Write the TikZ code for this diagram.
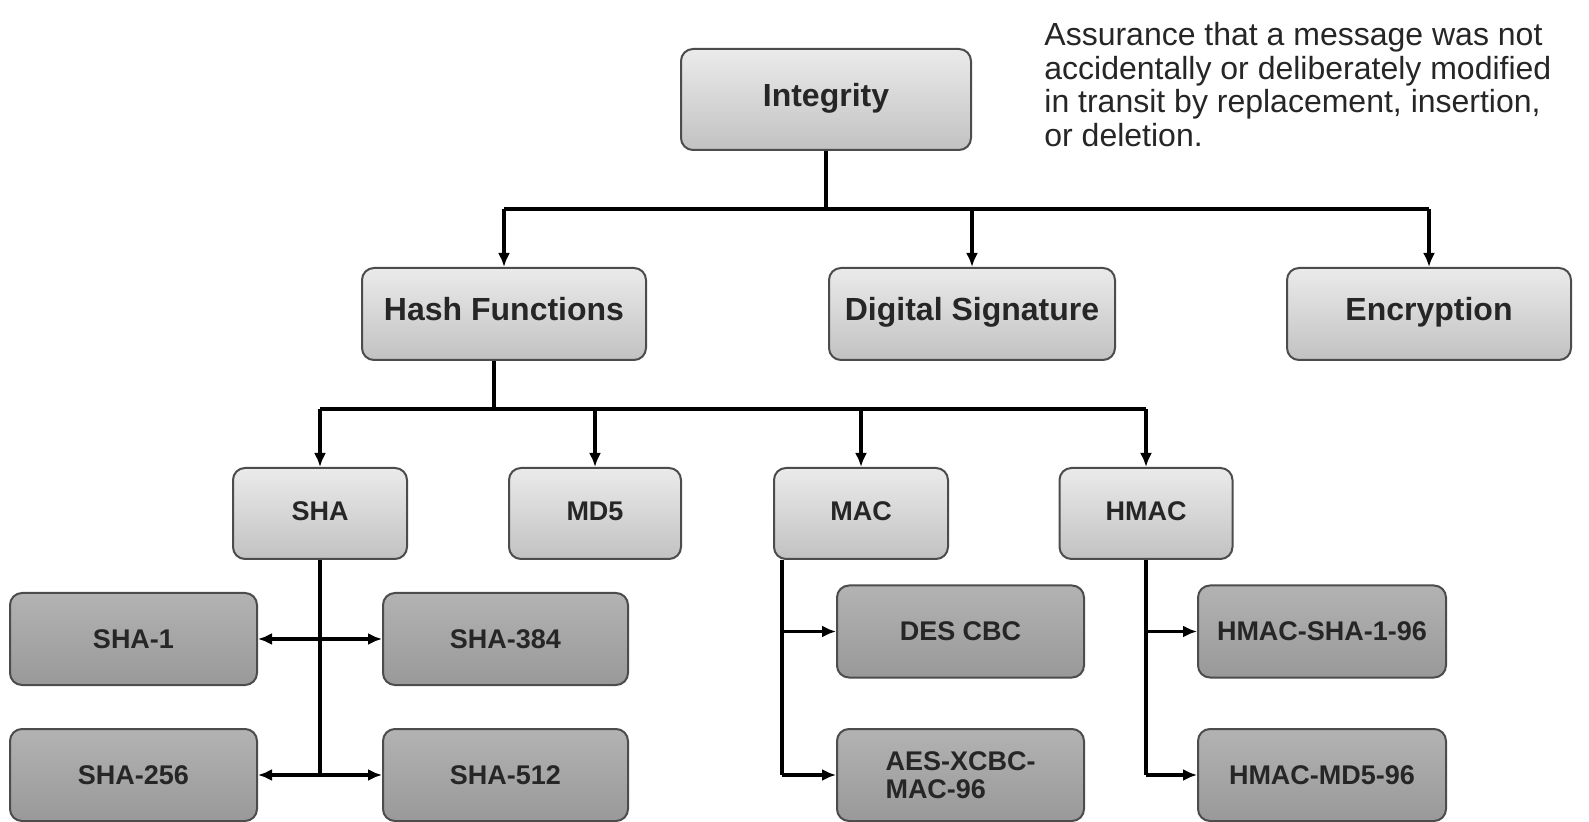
\documentclass[tikz,border=0pt]{standalone}
\usepackage{fontspec}
\setmainfont{Liberation Sans}
\usetikzlibrary{arrows.meta}
\begin{document}
\begin{tikzpicture}[x=0.5pt,y=-0.5pt,
  box/.style={draw=black!70, line width=1pt, rounded corners=6pt, font=\bfseries, text=black!85},
  upper/.style={box, top color=black!8, bottom color=black!24, minimum height=46pt, text height=0.72em, text depth=0.02em, font=\fontsize{16}{18}\selectfont\bfseries},
  mid/.style={box, top color=black!8, bottom color=black!24, minimum height=45.5pt, minimum width=87pt, text height=0.72em, text depth=0em, font=\fontsize{13.5}{15}\selectfont\bfseries},
  lower/.style={box, top color=black!30, bottom color=black!40, minimum height=46pt, minimum width=123.5pt, font=\fontsize{13.5}{14}\selectfont\bfseries},
  conn/.style={line width=1.7pt, -{Latex[length=7pt,width=6pt]}},
  plain/.style={line width=1.7pt}
]
\useasboundingbox (0,0) rectangle (1589,822);
\fill[white] (0,0) rectangle (1589,822);

\node[upper, minimum width=145pt, minimum height=50.5pt] (integ) at (826,99.5) {Integrity};
\node[upper, minimum width=142pt] (hash) at (504,314) {Hash Functions};
\node[upper, minimum width=143pt] (dsig) at (972,314) {Digital Signature};
\node[upper, minimum width=142pt] (enc) at (1429,314) {Encryption};

\node[anchor=north west, align=left, inner sep=0pt, font=\fontsize{16}{16.8}\selectfont, text=black!85] (note) at (1044,22)
  {Assurance that a message was not\\accidentally or deliberately modified\\in transit by replacement, insertion,\\or deletion.};

\node[mid] (sha) at (320,513.5) {SHA};
\node[mid, minimum width=86pt] (md5) at (595,513.5) {MD5};
\node[mid] (mac) at (861,513.5) {MAC};
\node[mid, minimum width=86.5pt] (hmac) at (1146,513.5) {HMAC};

\node[lower] (sha1) at (133.5,639) {SHA-1};
\node[lower, minimum width=122.5pt] (sha384) at (505.5,639) {SHA-384};
\node[lower] (sha256) at (133.5,775) {SHA-256};
\node[lower, minimum width=122.5pt] (sha512) at (505.5,775) {SHA-512};
\node[lower] (des) at (960.5,631.5) {DES CBC};
\node[lower, align=left] (aes) at (960.5,775) {AES-XCBC-\\MAC-96};
\node[lower, minimum width=124pt] (hsha) at (1322,631.5) {HMAC-SHA-1-96};
\node[lower, minimum width=124pt] (hmd5) at (1322,775) {HMAC-MD5-96};

% Integrity bus
\coordinate (b1) at (826,209);
\draw[plain] (integ.south) -- (b1);
\draw[plain] (hash.north |- b1) -- (enc.north |- b1);
\draw[conn] (hash.north |- b1) -- (hash.north);
\draw[conn] (dsig.north |- b1) -- (dsig.north);
\draw[conn] (enc.north |- b1) -- (enc.north);

% Hash bus
\coordinate (b2) at (494,409);
\draw[plain] (b2 |- hash.south) -- (b2);
\draw[plain] (sha.north |- b2) -- (hmac.north |- b2);
\draw[conn] (sha.north |- b2) -- (sha.north);
\draw[conn] (md5.north |- b2) -- (md5.north);
\draw[conn] (mac.north |- b2) -- (mac.north);
\draw[conn] (hmac.north |- b2) -- (hmac.north);

% SHA family
\coordinate (s1) at (320,639);
\coordinate (s2) at (320,775);
\draw[plain] (sha.south) -- (s2);
\draw[conn] (s1) -- (sha1.east);
\draw[conn] (s1) -- (sha384.west);
\draw[conn] (s2) -- (sha256.east);
\draw[conn] (s2) -- (sha512.west);

% MAC family
\coordinate (m0) at (782,559);
\coordinate (m1) at (782,631.5);
\coordinate (m2) at (782,775);
\draw[plain] (m0 |- mac.south) -- (m2);
\draw[conn] (m1) -- (des.west);
\draw[conn] (m2) -- (aes.west);

% HMAC family
\coordinate (h1) at (1146,631.5);
\coordinate (h2) at (1146,775);
\draw[plain] (hmac.south) -- (h2);
\draw[conn] (h1) -- (hsha.west);
\draw[conn] (h2) -- (hmd5.west);
\end{tikzpicture}
\end{document}
